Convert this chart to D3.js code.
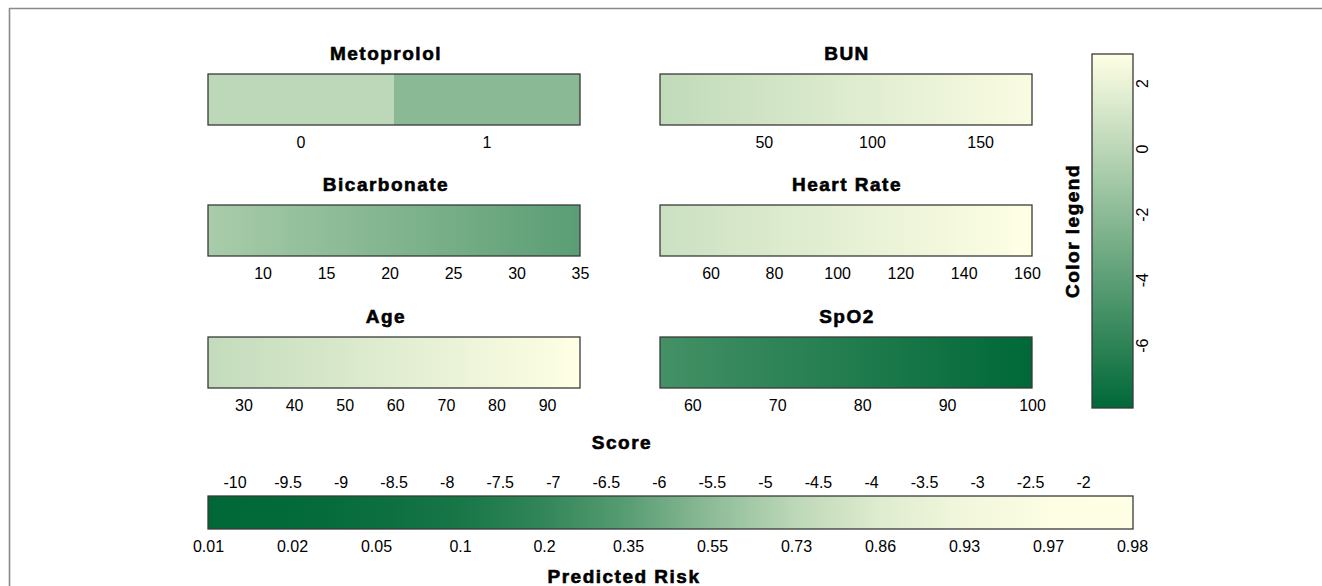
<!DOCTYPE html>
<html>
<head>
<meta charset="utf-8">
<script src="https://cdn.jsdelivr.net/npm/d3@7"></script>
<style>
  html, body { margin: 0; padding: 0; background: #fff; }
  svg { display: block; font-family: "Liberation Sans", Arial, sans-serif; }
  .tick text { font-size: 16px; fill: #000; }
  .title { font-size: 19px; font-weight: bold; letter-spacing: 1.5px; fill: #000;
           stroke: #000; stroke-width: 0.6px; }
</style>
</head>
<body>
<svg id="chart" width="1322" height="586"></svg>
<script>
// ---- data -------------------------------------------------------------
// Binary predictor: levels and their contribution to the linear score
const metoprololLevels = ["0", "1"];
const metoprololEffects = [0.1, -2.06];

// Continuous predictors: observed range and contribution at each end
const contNames = ["BUN", "Bicarbonate", "Heart Rate", "Age", "SpO2"];
const contRanges = [[2, 174], [5.7, 35], [44, 161.6], [23, 96.5], [56.2, 100]];
const contEffects = [[0.24, 2.7], [-0.76, -4.1], [0.7, 2.9], [0.35, 2.9], [-5.0, -7.9]];
const contTicks = [
  [50, 100, 150],
  [10, 15, 20, 25, 30, 35],
  [60, 80, 100, 120, 140, 160],
  [30, 40, 50, 60, 70, 80, 90],
  [60, 70, 80, 90, 100]
];

// Colour legend ticks
const legendTicks = [-6, -4, -2, 0, 2];

// Total score axis and matching predicted risk labels
const scoreRange = [-10.25, -1.53];
const scoreTicks = [-10, -9.5, -9, -8.5, -8, -7.5, -7, -6.5, -6, -5.5, -5, -4.5, -4, -3.5, -3, -2.5, -2];
const riskLabels = [0.01, 0.02, 0.05, 0.1, 0.2, 0.35, 0.55, 0.73, 0.86, 0.93, 0.97, 0.98];

// ---- layout -----------------------------------------------------------
const svg = d3.select("#chart");
const dark = "#006837", light = "#ffffe5";
const barH = 51;
const cols = [{x0: 208, x1: 580, tx: 386}, {x0: 660, x1: 1032, tx: 847}];
const rowTops = [74, 205, 337];
const legendBox = {x: 1092, y0: 54, y1: 408, w: 41};
const scoreBox = {x0: 208, x1: 1133, y0: 496, y1: 529};

// page frame
svg.append("line").attr("x1", 9).attr("x2", 1322).attr("y1", 8.5).attr("y2", 8.5)
  .attr("stroke", "#8a8a8a").attr("stroke-width", 1.6);
svg.append("line").attr("x1", 9.5).attr("x2", 9.5).attr("y1", 8).attr("y2", 586)
  .attr("stroke", "#8a8a8a").attr("stroke-width", 1.6);

// shared colour scale over all contributions
const allEffects = metoprololEffects.concat(contEffects.flat());
const effExtent = d3.extent(allEffects);
const color = d3.scaleLinear().domain(effExtent).range([dark, light])
  .interpolate(d3.interpolateRgb);

const defs = svg.append("defs");

function title(x, y, text) {
  svg.append("text").attr("class", "title").attr("x", x).attr("y", y)
    .attr("text-anchor", "middle").text(text);
}

function styleAxis(g) {
  g.select(".domain").remove();
  g.selectAll(".tick line").remove();
  g.selectAll(".tick text").attr("font-family", "Liberation Sans, Arial, sans-serif");
}

// Metoprolol (categorical, first panel)
{
  const c = cols[0], top = rowTops[0];
  const xb = d3.scaleBand().domain(metoprololLevels).range([c.x0, c.x1]);
  svg.selectAll("rect.meto").data(metoprololLevels).join("rect")
    .attr("class", "meto")
    .attr("x", d => xb(d)).attr("y", top)
    .attr("width", xb.bandwidth()).attr("height", barH)
    .attr("fill", (d, i) => color(metoprololEffects[i]));
  svg.append("rect").attr("x", c.x0).attr("y", top).attr("width", c.x1 - c.x0).attr("height", barH)
    .attr("fill", "none").attr("stroke", "#3a3a3a").attr("stroke-width", 1.3);
  title(c.tx, top - 14, "Metoprolol");
  svg.append("g").attr("transform", `translate(0,${top + barH})`)
    .call(d3.axisBottom(xb).tickSize(0).tickPadding(11.6))
    .call(styleAxis);
}

// Continuous panels
contNames.forEach((name, i) => {
  const slot = i + 1;
  const c = cols[slot % 2], top = rowTops[Math.floor(slot / 2)];
  const x = d3.scaleLinear().domain(contRanges[i]).range([c.x0, c.x1]);
  const gid = "grad" + i;
  const grad = defs.append("linearGradient").attr("id", gid)
    .attr("x1", "0%").attr("x2", "100%").attr("y1", "0%").attr("y2", "0%");
  grad.append("stop").attr("offset", "0%").attr("stop-color", color(contEffects[i][0]));
  grad.append("stop").attr("offset", "100%").attr("stop-color", color(contEffects[i][1]));
  svg.append("rect").attr("x", c.x0).attr("y", top).attr("width", c.x1 - c.x0).attr("height", barH)
    .attr("fill", `url(#${gid})`).attr("stroke", "#3a3a3a").attr("stroke-width", 1.3);
  title(c.tx, top - 14, name);
  svg.append("g").attr("transform", `translate(0,${top + barH})`)
    .call(d3.axisBottom(x).tickValues(contTicks[i]).tickFormat(d => String(d))
      .tickSize(0).tickPadding(11.6))
    .call(styleAxis);
});

// Colour legend (vertical)
{
  const y = d3.scaleLinear().domain(effExtent).range([legendBox.y1, legendBox.y0]);
  const grad = defs.append("linearGradient").attr("id", "legendGrad")
    .attr("x1", "0%").attr("x2", "0%").attr("y1", "100%").attr("y2", "0%");
  grad.append("stop").attr("offset", "0%").attr("stop-color", color(effExtent[0]));
  grad.append("stop").attr("offset", "100%").attr("stop-color", color(effExtent[1]));
  svg.append("rect").attr("x", legendBox.x).attr("y", legendBox.y0)
    .attr("width", legendBox.w).attr("height", legendBox.y1 - legendBox.y0)
    .attr("fill", "url(#legendGrad)").attr("stroke", "#3a3a3a").attr("stroke-width", 1.3);
  svg.selectAll("text.legtick").data(legendTicks).join("text")
    .attr("class", "legtick")
    .attr("transform", d => `translate(${legendBox.x + legendBox.w + 15},${y(d)}) rotate(-90)`)
    .attr("text-anchor", "middle")
    .attr("font-size", 16)
    .text(d => String(d));
  svg.append("text").attr("class", "title")
    .attr("transform", `translate(1079,${(legendBox.y0 + legendBox.y1) / 2}) rotate(-90)`)
    .attr("text-anchor", "middle").text("Color legend");
}

// Score bar with predicted risk
{
  const xs = d3.scaleLinear().domain(scoreRange).range([scoreBox.x0, scoreBox.x1]);
  const xr = d3.scalePoint().domain(riskLabels).range([scoreBox.x0, scoreBox.x1 - 1]);
  const riskColor = d3.scaleLinear().domain(d3.extent(riskLabels)).range([dark, light])
    .interpolate(d3.interpolateRgb);
  const grad = defs.append("linearGradient").attr("id", "scoreGrad")
    .attr("x1", "0%").attr("x2", "100%").attr("y1", "0%").attr("y2", "0%");
  riskLabels.forEach((r, i) => {
    grad.append("stop").attr("offset", (100 * i / (riskLabels.length - 1)) + "%")
      .attr("stop-color", riskColor(r));
  });
  svg.append("rect").attr("x", scoreBox.x0).attr("y", scoreBox.y0)
    .attr("width", scoreBox.x1 - scoreBox.x0).attr("height", scoreBox.y1 - scoreBox.y0)
    .attr("fill", "url(#scoreGrad)").attr("stroke", "#3a3a3a").attr("stroke-width", 1.3);
  svg.append("g").attr("transform", `translate(0,${scoreBox.y0})`)
    .call(d3.axisTop(xs).tickValues(scoreTicks).tickFormat(d => String(d))
      .tickSize(0).tickPadding(8))
    .call(styleAxis);
  svg.append("g").attr("transform", `translate(0,${scoreBox.y1})`)
    .call(d3.axisBottom(xr).tickFormat(d => String(d)).tickSize(0).tickPadding(11.6))
    .call(styleAxis);
  title(622, 449, "Score");
  title(624, 583, "Predicted Risk");
}
</script>
</body>
</html>
